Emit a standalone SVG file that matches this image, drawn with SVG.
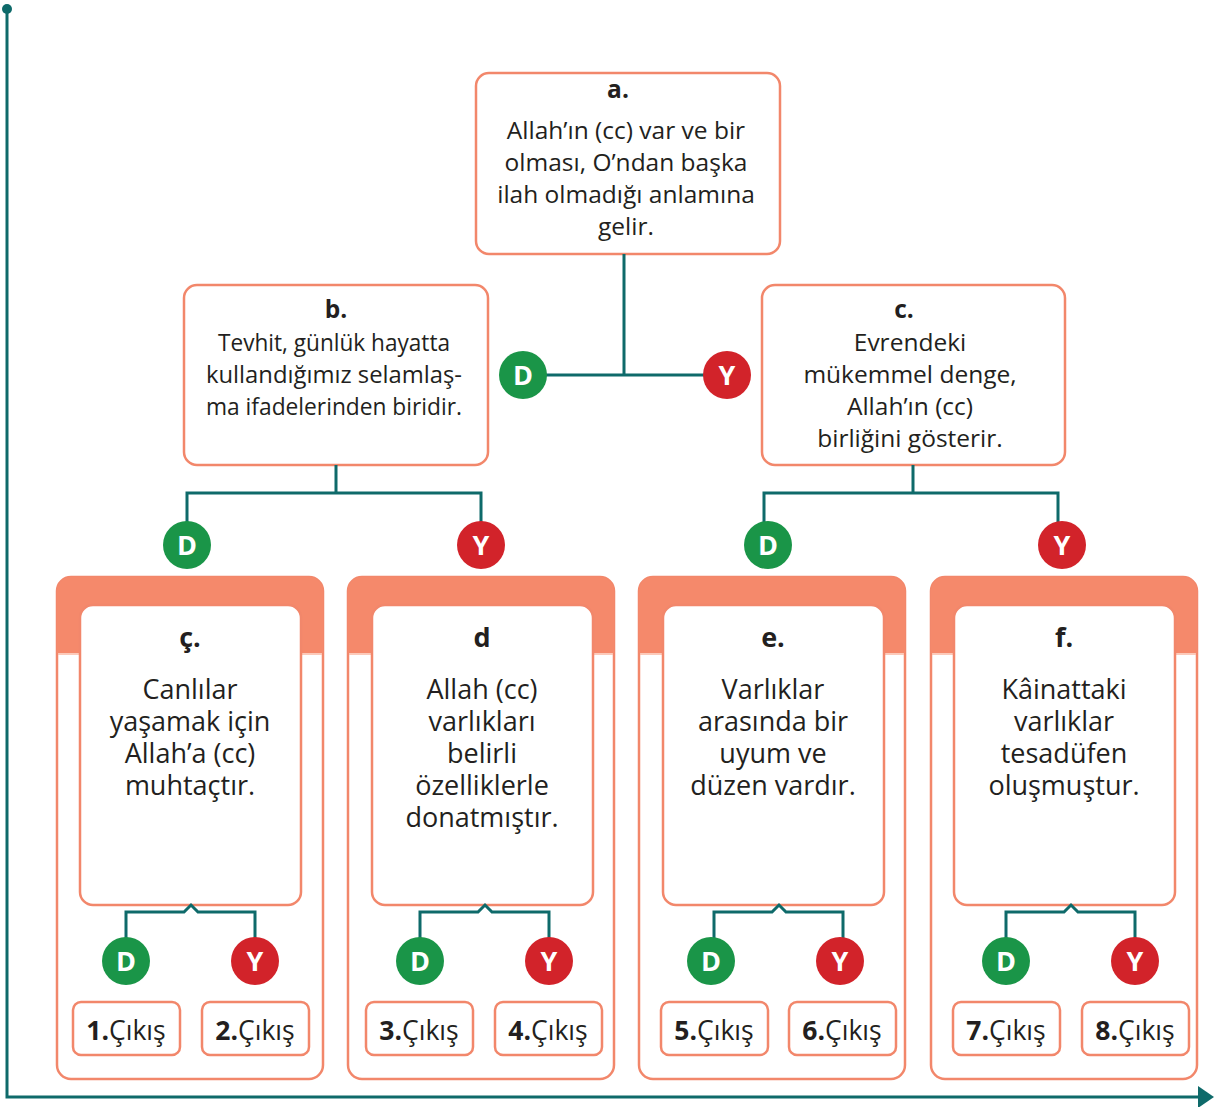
<svg xmlns="http://www.w3.org/2000/svg" width="1219" height="1107" viewBox="0 0 1219 1107">
<style>
.box{fill:#fff;stroke:#f2876b;stroke-width:2.5}
.outer{fill:#fff;stroke:#f2876b;stroke-width:2.5}
.band{fill:#f5896b}
.bandline{stroke:#fbb8a3;stroke-width:1.5}
.con{fill:none;stroke:#0e6a6a;stroke-width:3}
.t{font-family:"Open Sans","Noto Sans",sans-serif;fill:#231f20;text-anchor:middle}
.m{font-size:24.5px}
.b{font-weight:bold}
.l{font-size:27px}
.x{font-size:26.5px}
.cD{fill:#1a9548}
.cY{fill:#d2232a}
.ct{font-family:"Open Sans","Noto Sans",sans-serif;font-weight:bold;font-size:27px;fill:#fff;text-anchor:middle}
</style>
<defs>
<marker id="arr" markerWidth="16" markerHeight="22" refX="2" refY="11" orient="auto" markerUnits="userSpaceOnUse">
<path d="M0,0 L16,11 L0,22 Z" fill="#0e6a6a"/>
</marker>
</defs>

<g id="axes">
<circle cx="7" cy="9" r="5" fill="#0e6a6a"/>
<path d="M7,9 V1097 H1200" fill="none" stroke="#0e6a6a" stroke-width="3" marker-end="url(#arr)"/>
</g>

<g id="node-a">
<rect class="box" x="476" y="73" width="304" height="181" rx="13"/>
<text class="t m b" x="618" y="98">a.</text>
<text class="t m" x="626" y="139"><tspan x="626" y="139">Allah’ın (cc) var ve bir</tspan><tspan x="626" y="171">olması, O’ndan başka</tspan><tspan x="626" y="203">ilah olmadığı anlamına</tspan><tspan x="626" y="235">gelir.</tspan></text>
</g>

<g id="node-b">
<rect class="box" x="184" y="285" width="304" height="180" rx="13"/>
<text class="t m b" x="336" y="318">b.</text>
<text class="t m" x="334" y="351"><tspan x="334" y="351" textLength="232" lengthAdjust="spacingAndGlyphs">Tevhit, günlük hayatta</tspan><tspan x="334" y="383" textLength="256" lengthAdjust="spacingAndGlyphs">kullandığımız selamlaş-</tspan><tspan x="334" y="415" textLength="256" lengthAdjust="spacingAndGlyphs">ma ifadelerinden biridir.</tspan></text>
</g>

<g id="node-c">
<rect class="box" x="762" y="285" width="303" height="180" rx="13"/>
<text class="t m b" x="904" y="318">c.</text>
<text class="t m" x="910" y="351"><tspan x="910" y="351">Evrendeki</tspan><tspan x="910" y="383">mükemmel denge,</tspan><tspan x="910" y="415">Allah’ın (cc)</tspan><tspan x="910" y="447">birliğini gösterir.</tspan></text>
</g>

<g id="card-c-cedilla">
<rect class="outer" x="57" y="577" width="266" height="502" rx="14"/>
<path class="band" d="M57,653 V591 A14,14 0 0 1 71,577 H309 A14,14 0 0 1 323,591 V653 Z"/>
<line class="bandline" x1="58" y1="654" x2="322" y2="654"/>
<rect class="box" x="80" y="605" width="221" height="300" rx="13"/>
<text class="t l b" x="190" y="647">ç.</text>
<text class="t l" x="190" y="699"><tspan x="190" y="699">Canlılar</tspan><tspan x="190" y="731">yaşamak için</tspan><tspan x="190" y="763">Allah’a (cc)</tspan><tspan x="190" y="795">muhtaçtır.</tspan></text>
<rect class="box" x="73" y="1002" width="107" height="53" rx="8"/>
<text class="t x" x="126" y="1040"><tspan font-weight="bold">1.</tspan>Çıkış</text>
<rect class="box" x="202" y="1002" width="107" height="53" rx="8"/>
<text class="t x" x="255" y="1040"><tspan font-weight="bold">2.</tspan>Çıkış</text>
</g>

<g id="card-d">
<rect class="outer" x="348" y="577" width="266" height="502" rx="14"/>
<path class="band" d="M348,653 V591 A14,14 0 0 1 362,577 H600 A14,14 0 0 1 614,591 V653 Z"/>
<line class="bandline" x1="349" y1="654" x2="613" y2="654"/>
<rect class="box" x="372" y="605" width="221" height="300" rx="13"/>
<text class="t l b" x="482" y="647">d</text>
<text class="t l" x="482" y="699"><tspan x="482" y="699">Allah (cc)</tspan><tspan x="482" y="731">varlıkları</tspan><tspan x="482" y="763">belirli</tspan><tspan x="482" y="795">özelliklerle</tspan><tspan x="482" y="827">donatmıştır.</tspan></text>
<rect class="box" x="366" y="1002" width="107" height="53" rx="8"/>
<text class="t x" x="419" y="1040"><tspan font-weight="bold">3.</tspan>Çıkış</text>
<rect class="box" x="495" y="1002" width="107" height="53" rx="8"/>
<text class="t x" x="548" y="1040"><tspan font-weight="bold">4.</tspan>Çıkış</text>
</g>

<g id="card-e">
<rect class="outer" x="639" y="577" width="266" height="502" rx="14"/>
<path class="band" d="M639,653 V591 A14,14 0 0 1 653,577 H891 A14,14 0 0 1 905,591 V653 Z"/>
<line class="bandline" x1="640" y1="654" x2="904" y2="654"/>
<rect class="box" x="663" y="605" width="221" height="300" rx="13"/>
<text class="t l b" x="773" y="647">e.</text>
<text class="t l" x="773" y="699"><tspan x="773" y="699">Varlıklar</tspan><tspan x="773" y="731">arasında bir</tspan><tspan x="773" y="763">uyum ve</tspan><tspan x="773" y="795">düzen vardır.</tspan></text>
<rect class="box" x="661" y="1002" width="107" height="53" rx="8"/>
<text class="t x" x="714" y="1040"><tspan font-weight="bold">5.</tspan>Çıkış</text>
<rect class="box" x="789" y="1002" width="107" height="53" rx="8"/>
<text class="t x" x="842" y="1040"><tspan font-weight="bold">6.</tspan>Çıkış</text>
</g>

<g id="card-f">
<rect class="outer" x="931" y="577" width="266" height="502" rx="14"/>
<path class="band" d="M931,653 V591 A14,14 0 0 1 945,577 H1183 A14,14 0 0 1 1197,591 V653 Z"/>
<line class="bandline" x1="932" y1="654" x2="1196" y2="654"/>
<rect class="box" x="954" y="605" width="221" height="300" rx="13"/>
<text class="t l b" x="1064" y="647">f.</text>
<text class="t l" x="1064" y="699"><tspan x="1064" y="699">Kâinattaki</tspan><tspan x="1064" y="731">varlıklar</tspan><tspan x="1064" y="763">tesadüfen</tspan><tspan x="1064" y="795">oluşmuştur.</tspan></text>
<rect class="box" x="953" y="1002" width="107" height="53" rx="8"/>
<text class="t x" x="1006" y="1040"><tspan font-weight="bold">7.</tspan>Çıkış</text>
<rect class="box" x="1082" y="1002" width="107" height="53" rx="8"/>
<text class="t x" x="1135" y="1040"><tspan font-weight="bold">8.</tspan>Çıkış</text>
</g>

<g id="connectors">
<path class="con" d="M624,254 V375 M523,375 H727"/>
<path class="con" d="M336,465 V493 M187,545 V493 H481 V545"/>
<path class="con" d="M913,465 V493 M764,545 V493 H1058 V545"/>
<path class="con" d="M126,961 V912 H184 L191,905 L198,912 H255 V961"/>
<path class="con" d="M420,961 V912 H478 L485,905 L492,912 H549 V961"/>
<path class="con" d="M714,961 V912 H772 L779,905 L786,912 H843 V961"/>
<path class="con" d="M1006,961 V912 H1064 L1071,905 L1078,912 H1135 V961"/>
</g>

<g id="decision-markers">
<circle class="cD" cx="523" cy="375" r="24"/><text class="ct" x="523" y="385">D</text>
<circle class="cY" cx="727" cy="375" r="24"/><text class="ct" x="727" y="385">Y</text>
<circle class="cD" cx="187" cy="545" r="24"/><text class="ct" x="187" y="555">D</text>
<circle class="cY" cx="481" cy="545" r="24"/><text class="ct" x="481" y="555">Y</text>
<circle class="cD" cx="768" cy="545" r="24"/><text class="ct" x="768" y="555">D</text>
<circle class="cY" cx="1062" cy="545" r="24"/><text class="ct" x="1062" y="555">Y</text>
<circle class="cD" cx="126" cy="961" r="24"/><text class="ct" x="126" y="971">D</text>
<circle class="cY" cx="255" cy="961" r="24"/><text class="ct" x="255" y="971">Y</text>
<circle class="cD" cx="420" cy="961" r="24"/><text class="ct" x="420" y="971">D</text>
<circle class="cY" cx="549" cy="961" r="24"/><text class="ct" x="549" y="971">Y</text>
<circle class="cD" cx="711" cy="961" r="24"/><text class="ct" x="711" y="971">D</text>
<circle class="cY" cx="840" cy="961" r="24"/><text class="ct" x="840" y="971">Y</text>
<circle class="cD" cx="1006" cy="961" r="24"/><text class="ct" x="1006" y="971">D</text>
<circle class="cY" cx="1135" cy="961" r="24"/><text class="ct" x="1135" y="971">Y</text>
</g>
</svg>
